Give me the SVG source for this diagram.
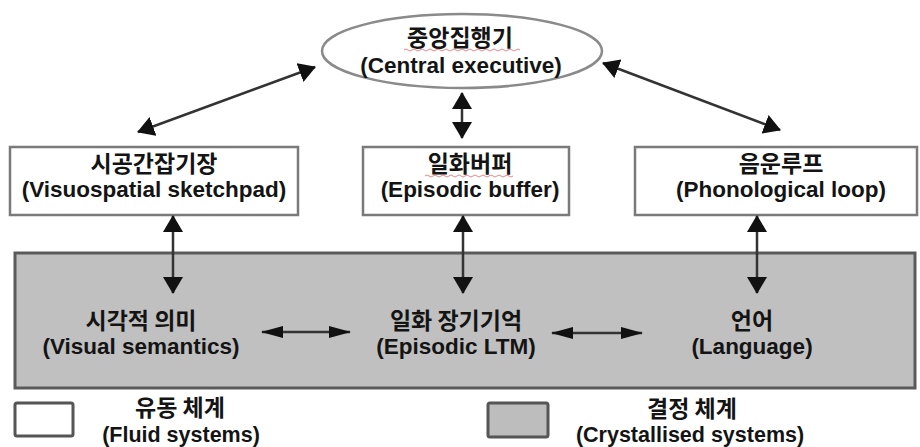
<svg xmlns="http://www.w3.org/2000/svg" width="920" height="447" viewBox="0 0 920 447">
  <style>
    .ko { font-family: "Noto Sans CJK KR", "Noto Sans", sans-serif; font-weight: 700; font-size: 23px; fill: #141414; text-anchor: middle; }
    .en { font-family: "Liberation Sans", Arial, sans-serif; font-weight: 700; font-size: 22.5px; fill: #141414; text-anchor: middle; }
    .legend-en { font-size: 21.5px; }
    .box { fill: #ffffff; stroke: #7a7a7a; stroke-width: 2.5; }
    .lt { fill: #c0c0c0; stroke: #5a5a5a; stroke-width: 3; }
    .conn { stroke: #333333; stroke-width: 2.5; fill: none; }
    .squig { stroke: #e05050; stroke-width: 1; fill: none; opacity: 0.7; }
  </style>
  <defs>
    <marker id="head" viewBox="0 0 17 20" refX="16" refY="10" markerWidth="17" markerHeight="20" markerUnits="userSpaceOnUse" orient="auto-start-reverse">
      <path d="M0,0 L17,10 L0,20 Z" fill="#111111"/>
    </marker>
    <marker id="headSlim" viewBox="0 0 22 12" refX="21" refY="6" markerWidth="22" markerHeight="12" markerUnits="userSpaceOnUse" orient="auto-start-reverse">
      <path d="M0,0 L22,6 L0,12 Z" fill="#111111"/>
    </marker>
  </defs>

  <rect width="920" height="447" fill="#ffffff"/>

  <!-- long-term store background -->
  <g id="ltm-area">
    <rect class="lt" x="15" y="253" width="900" height="135"/>
  </g>

  <!-- central executive -->
  <g id="central-executive">
    <ellipse cx="462" cy="51" rx="140" ry="37" fill="#ffffff" stroke="#8a8a8a" stroke-width="2.5"/>
    <text class="ko" x="460" y="46">중앙집행기</text>
    <path class="squig" d="M404,50 q2,-2 4,0 t4,0 t4,0 t4,0 t4,0 t4,0 t4,0 t4,0 t4,0 t4,0 t4,0 t4,0 t4,0 t4,0 t4,0 t4,0 t4,0 t4,0 t4,0 t4,0 t4,0 t4,0 t4,0 t4,0 t4,0 t4,0 t4,0 t4,0 t4,0"/>
    <text class="en" x="461" y="73">(Central executive)</text>
  </g>

  <!-- slave systems -->
  <g id="visuospatial-sketchpad">
    <rect class="box" x="10" y="147" width="288" height="68"/>
    <text class="ko" x="154" y="172">시공간잡기장</text>
    <text class="en" x="154" y="197">(Visuospatial sketchpad)</text>
  </g>
  <g id="episodic-buffer">
    <rect class="box" x="363" y="147" width="206" height="68"/>
    <text class="ko" x="470" y="172">일화버퍼</text>
    <path class="squig" d="M425,176 q2,-2 4,0 t4,0 t4,0 t4,0 t4,0 t4,0 t4,0 t4,0 t4,0 t4,0 t4,0 t4,0 t4,0 t4,0 t4,0 t4,0 t4,0 t4,0 t4,0 t4,0 t4,0 t4,0"/>
    <text class="en" x="470" y="197">(Episodic buffer)</text>
  </g>
  <g id="phonological-loop">
    <rect class="box" x="635" y="147" width="282" height="68"/>
    <text class="ko" x="781" y="172">음운루프</text>
    <text class="en" x="781" y="197">(Phonological loop)</text>
  </g>

  <!-- long-term stores -->
  <g id="visual-semantics">
    <text class="ko" x="141" y="329">시각적 의미</text>
    <text class="en" x="141" y="354">(Visual semantics)</text>
  </g>
  <g id="episodic-ltm">
    <text class="ko" x="456" y="329">일화 장기기억</text>
    <text class="en" x="456" y="354">(Episodic LTM)</text>
  </g>
  <g id="language">
    <text class="ko" x="752" y="329">언어</text>
    <text class="en" x="752" y="354">(Language)</text>
  </g>

  <!-- legend -->
  <g id="legend-fluid">
    <rect x="15" y="403" width="58" height="33" rx="2" fill="#ffffff" stroke="#555555" stroke-width="3"/>
    <text class="ko" x="180" y="416">유동 체계</text>
    <text class="en legend-en" x="181" y="442">(Fluid systems)</text>
  </g>
  <g id="legend-crystallised">
    <rect x="488" y="403" width="60" height="34" rx="2" fill="#bdbdbd" stroke="#555555" stroke-width="3"/>
    <text class="ko" x="692" y="417">결정 체계</text>
    <text class="en legend-en" x="690" y="442">(Crystallised systems)</text>
  </g>

  <!-- connectors -->
  <g id="connectors">
    <line class="conn" x1="315" y1="67" x2="138" y2="132" marker-start="url(#head)" marker-end="url(#head)"/>
    <line class="conn" x1="603" y1="63" x2="780" y2="130" marker-start="url(#head)" marker-end="url(#head)"/>
    <line class="conn" x1="462" y1="93" x2="462" y2="138" marker-start="url(#head)" marker-end="url(#head)"/>
    <line class="conn" x1="173" y1="216" x2="173" y2="293" marker-start="url(#head)" marker-end="url(#head)"/>
    <line class="conn" x1="463" y1="216" x2="463" y2="293" marker-start="url(#head)" marker-end="url(#head)"/>
    <line class="conn" x1="757" y1="216" x2="757" y2="293" marker-start="url(#head)" marker-end="url(#head)"/>
    <line class="conn" x1="262" y1="332" x2="350" y2="332" marker-start="url(#headSlim)" marker-end="url(#headSlim)"/>
    <line class="conn" x1="552" y1="333" x2="642" y2="333" marker-start="url(#headSlim)" marker-end="url(#headSlim)"/>
  </g>
</svg>
